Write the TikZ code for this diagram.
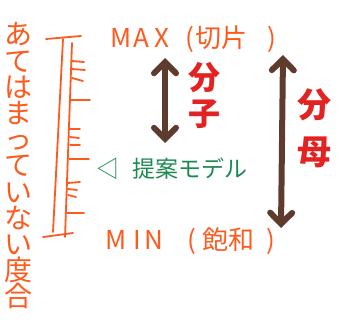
\documentclass[tikz,border=0pt]{standalone}
\usepackage{fontspec}
\setmainfont{Noto Sans CJK JP}
\usetikzlibrary{arrows.meta}
\definecolor{orng}{HTML}{FF5A1E}
\definecolor{redd}{HTML}{E32222}
\definecolor{grn}{HTML}{1C8A50}
\definecolor{brwn}{HTML}{5E3B2D}
\tikzset{
  ruler/.style={draw=orng, line width=1.8pt, line cap=round},
  bigarrow/.style={draw=brwn, line width=6pt, line cap=round,
    {Straight Barb[length=11pt,width=22pt,line width=6pt,line cap=round]}-{Straight Barb[length=11pt,width=22pt,line width=6pt,line cap=round]}},
  lbl/.style={inner sep=0pt, outer sep=0pt}
}
\begin{document}
\begin{tikzpicture}[x=1pt,y=-1pt]
\useasboundingbox (0,0) rectangle (339,321);
% vertical label
\node[lbl, text=orng, align=center, font=\fontsize{28}{26.2}\selectfont] (vlabel) at (19,166)
  {あ\\て\\は\\ま\\っ\\て\\い\\な\\い\\度\\合};
% ruler
\draw[ruler] (46,39) -- (81,36);
\draw[ruler] (63,39) -- (53,232);
\draw[ruler] (43,237) -- (73,233);
\draw[ruler] (72,43) -- (65,237);
\draw[ruler] (72,61) -- (84,62);
\draw[ruler] (72,69) -- (85,70);
\draw[ruler] (72,78) -- (83,81);
\draw[ruler] (71,100) -- (90,100);
\draw[ruler] (70,129) -- (80,129);
\draw[ruler] (70,137) -- (79,138);
\draw[ruler] (70,145) -- (80,145);
\draw[ruler] (69,159) -- (89,159);
\draw[ruler] (68,183) -- (80,182);
\draw[ruler] (68,189) -- (77,190);
\draw[ruler] (68,195) -- (76,197);
\draw[ruler] (67,213) -- (84,213);
% texts
\node[lbl, text=orng, font=\fontsize{26}{26}\selectfont, anchor=west] (maxl) at (110,39)
  {M\hspace{2pt}A\hspace{6pt}X\hspace{16pt}(\hspace{1pt}切片\hspace{20pt})};
\node[lbl, text=orng, font=\fontsize{26}{26}\selectfont, anchor=west] (minl) at (105,241)
  {M\hspace{7pt}I\hspace{4pt}N\hspace{24pt}(\hspace{6pt}飽和\hspace{12pt})};
\node[lbl, text=grn, font=\fontsize{23}{23}\selectfont, anchor=west] (model) at (96,169)
  {◁\hspace{14pt}提案モデル};
\node[lbl, text=redd, align=center, font=\bfseries\fontsize{32}{36}\selectfont] (bunshi) at (204,96)
  {分\\子};
\node[lbl, text=redd, align=center, font=\bfseries\fontsize{34}{47}\selectfont] (bunbo) at (314,128)
  {分\\母};
% arrows
\coordinate (a1t) at (165,58);
\coordinate (a1b) at (165,143);
\coordinate (a2t) at (283,55);
\coordinate (a2b) at (281,228);
\draw[bigarrow] (a1t) -- (a1b);
\draw[bigarrow] (a2t) -- (a2b);
\end{tikzpicture}
\end{document}
